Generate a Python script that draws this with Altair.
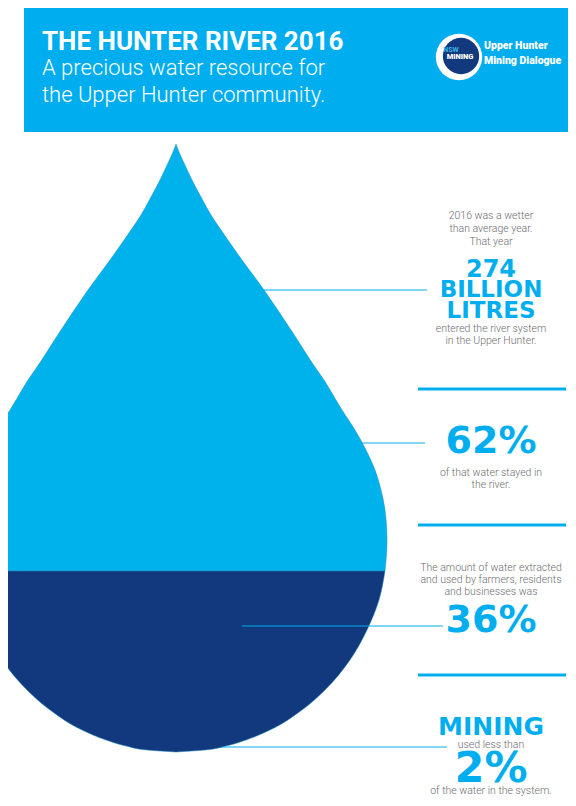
import altair as alt
import pandas as pd

# ---------------- values ----------------
inflow_billion_litres = 274
share_stayed = 62
share_extracted = 36
share_mining = 2

title_text = "THE HUNTER RIVER 2016"
subtitle_lines = ["A precious water resource for", "the Upper Hunter community."]
logo_lines = ["Upper Hunter", "Mining Dialogue"]

section1_intro = ["2016 was a wetter", "than average year.", "That year"]
section1_big = [str(inflow_billion_litres), "BILLION", "LITRES"]
section1_outro = ["entered the river system", "in the Upper Hunter."]
section2_big = [f"{share_stayed}%"]
section2_outro = ["of that water stayed in", "the river."]
section3_intro = ["The amount of water extracted", "and used by farmers, residents", "and businesses was"]
section3_big = [f"{share_extracted}%"]
section4_big = ["MINING", f"{share_mining}%"]
section4_mid = ["used less than"]
section4_outro = ["of the water in the system."]

# drop outline (depth in page units, half width)
drop_depth = [144, 152, 163, 180, 197, 215, 230, 260, 290, 330, 370, 380, 395, 410, 430,
              450, 470, 490, 510, 541, 571, 600, 630, 660, 690, 710, 730, 740, 746, 750, 752]
drop_half = [0, 3, 8, 16, 25, 35, 45, 66, 88, 115, 141, 148, 157, 166, 179,
             190, 199, 205, 209, 211, 209, 203, 191, 174, 149, 126, 94, 70, 50, 29, 0]
drop_center = 176
fill_level = 571   # top of the dark (extracted) part

# ---------------- layout (page units) ----------------
XS = alt.Scale(domain=[8, 568], nice=False, zero=False)
YS = alt.Scale(domain=[8, 798], nice=False, zero=False, reverse=True)
TX = 491

BLUE = "#00AEEF"
LIGHT = "#00B2EB"
DARK = "#12387D"
GREY = "#6d6e71"


def enc(df_chart, x="x", y="y"):
    return df_chart.encode(
        x=alt.X(f"{x}:Q", scale=XS, axis=None),
        y=alt.Y(f"{y}:Q", scale=YS, axis=None),
    )


# header box
header = pd.DataFrame({"x": [24], "x2": [568], "y": [8], "y2": [132]})
header_layer = alt.Chart(header).mark_rect(color=BLUE).encode(
    x=alt.X("x:Q", scale=XS, axis=None), x2="x2:Q",
    y=alt.Y("y:Q", scale=YS, axis=None), y2="y2:Q")

# drop
drop = pd.DataFrame({"depth": drop_depth, "half": drop_half})
drop["left"] = drop_center - drop["half"]
drop["right"] = drop_center + drop["half"]
light = drop[drop["depth"] <= fill_level]
dark = drop[drop["depth"] >= fill_level]


def drop_layer(df, color):
    return alt.Chart(df).mark_area(orient="horizontal", color=color, interpolate="monotone",
                                   stroke="#1b8fc2", strokeWidth=0.5).encode(
        y=alt.Y("depth:Q", scale=YS, axis=None),
        x=alt.X("left:Q", scale=XS, axis=None),
        x2="right:Q",
    )


light_layer = drop_layer(light, LIGHT)
dark_layer = drop_layer(dark, DARK)

# leader lines
leaders_under = pd.DataFrame({"x": [drop_center, drop_center, drop_center],
                              "x2": [427, 425, 447], "y": [290, 443, 747]})
leaders_over = pd.DataFrame({"x": [242], "x2": [443], "y": [626]})


def rule_layer(df, width):
    return alt.Chart(df).mark_rule(color=BLUE, strokeWidth=width).encode(
        x=alt.X("x:Q", scale=XS, axis=None), x2="x2:Q",
        y=alt.Y("y:Q", scale=YS, axis=None))


seps = pd.DataFrame({"x": [418, 418, 418], "x2": [566, 566, 566], "y": [389, 525, 675]})

# body text
body_text = (section1_intro + section1_outro + section2_outro + section3_intro
             + section4_mid + section4_outro)
body_y = [219, 232, 245, 332, 344, 476, 488, 571, 583, 595, 748, 794]
body = pd.DataFrame({"t": body_text, "x": TX, "y": body_y})
body_layer = enc(alt.Chart(body).mark_text(font="Roboto", fontWeight=300, fontSize=10.5,
                                           color=GREY, baseline="alphabetic", align="center")
                 ).encode(text="t:N")

# big blue stats
big_text = section1_big + section2_big + section3_big + section4_big
big_y = [277, 297, 318, 453, 632, 735, 782]
big_size = [24, 23, 23, 38, 38, 25, 43]
big = pd.DataFrame({"t": big_text, "x": TX, "y": big_y, "s": big_size})
big_layer = enc(alt.Chart(big).mark_text(font="DejaVu Sans", fontWeight="bold", color=BLUE,
                                         baseline="alphabetic", align="center")
                ).encode(text="t:N", size=alt.Size("s:Q", scale=None, legend=None))

# header text
title_df = pd.DataFrame({"t": [title_text], "x": [42], "y": [50]})
title_layer = enc(alt.Chart(title_df).mark_text(font="Roboto", fontWeight=700, fontSize=26,
                                                color="white", align="left", baseline="alphabetic")
                  ).encode(text="t:N")
sub_df = pd.DataFrame({"t": subtitle_lines, "x": [42, 42], "y": [75, 102]})
sub_layer = enc(alt.Chart(sub_df).mark_text(font="Roboto", fontWeight=300, fontSize=22,
                                            color="white", align="left", baseline="alphabetic")
                ).encode(text="t:N")

# logo
logo_white = pd.DataFrame({"x": [459], "y": [57]})
logo_white_layer = enc(alt.Chart(logo_white).mark_circle(color="white", opacity=1, size=2150))
logo_navy = pd.DataFrame({"x": [461], "y": [56]})
logo_navy_layer = enc(alt.Chart(logo_navy).mark_circle(color=DARK, opacity=1, size=1320))
logo_nsw = pd.DataFrame({"t": ["NSW"], "x": [451], "y": [52]})
logo_nsw_layer = enc(alt.Chart(logo_nsw).mark_text(font="Roboto", fontWeight=700, fontSize=7,
                                                   color="#3AB4E8", align="center",
                                                   baseline="alphabetic")).encode(text="t:N")
logo_min = pd.DataFrame({"t": ["MINING"], "x": [460], "y": [59]})
logo_min_layer = enc(alt.Chart(logo_min).mark_text(font="Roboto", fontWeight=900, fontSize=7.5,
                                                   color="white", align="center",
                                                   baseline="alphabetic")).encode(text="t:N")
logo_txt = pd.DataFrame({"t": logo_lines, "x": [484, 484], "y": [49, 64]})
logo_txt_layer = enc(alt.Chart(logo_txt).mark_text(font="Roboto", fontWeight=900, fontSize=10.5,
                                                   color="white", align="left",
                                                   baseline="alphabetic")).encode(text="t:N")

chart = alt.layer(
    header_layer,
    rule_layer(leaders_under, 1),
    light_layer, dark_layer,
    rule_layer(leaders_over, 1),
    rule_layer(seps, 3),
    body_layer, big_layer,
    title_layer, sub_layer,
    logo_white_layer, logo_navy_layer, logo_nsw_layer, logo_min_layer, logo_txt_layer,
).properties(width=560, height=790, padding=0, autosize="none"
).configure_view(strokeWidth=0)

chart.save("out.html", embed_options={"renderer": "svg", "actions": False})
